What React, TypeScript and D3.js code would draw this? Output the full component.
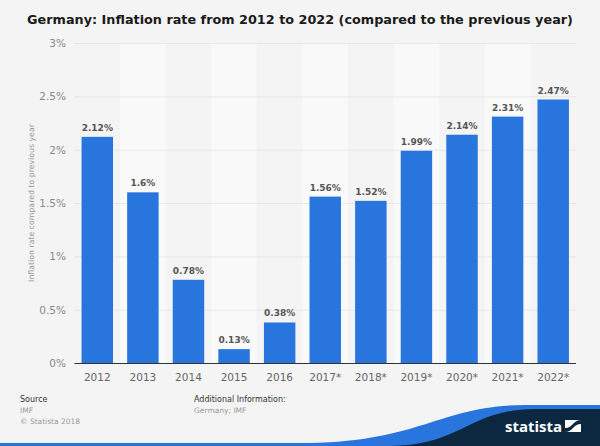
import React from "react";
import * as d3 from "d3";

const categories = ["2012", "2013", "2014", "2015", "2016", "2017*", "2018*", "2019*", "2020*", "2021*", "2022*"];
const values = [2.12, 1.6, 0.78, 0.13, 0.38, 1.56, 1.52, 1.99, 2.14, 2.31, 2.47];
const valueLabels = ["2.12%", "1.6%", "0.78%", "0.13%", "0.38%", "1.56%", "1.52%", "1.99%", "2.14%", "2.31%", "2.47%"];
const yTicks = [0, 0.5, 1, 1.5, 2, 2.5, 3];
const yTickLabels = ["0%", "0.5%", "1%", "1.5%", "2%", "2.5%", "3%"];

const W = 600;
const H = 446;
const FONT = "'DejaVu Sans', Verdana, sans-serif";

export default function App() {
  const x0 = 74.5, x1 = 576, yTop = 43, yBot = 363;
  const x = d3.scaleBand<string>().domain(categories).range([x0, x1]).paddingInner(0.31).paddingOuter(0.155);
  const y = d3.scaleLinear().domain([0, 3]).range([yBot, yTop]);
  const step = x.step();
  const bw = x.bandwidth();

  return (
    <svg width={W} height={H} style={{ position: "absolute", left: 0, top: 0, display: "block" }} fontFamily={FONT}>
      <rect x={0} y={0} width={W} height={H} fill="#f4f4f4" />
      {categories.map((c, i) =>
        i % 2 === 1 ? (
          <rect key={"bg" + c} x={x0 + i * step} y={yTop} width={step} height={yBot - yTop} fill="#f9f9f9" />
        ) : null
      )}
      <text x={300} y={24} textAnchor="middle" fontSize={12.8} fontWeight="bold" fill="#1a1a1a">
        Germany: Inflation rate from 2012 to 2022 (compared to the previous year)
      </text>
      {yTicks.map((t, i) => (
        <g key={"yt" + t}>
          {t > 0 && (
            <line x1={x0} x2={x1} y1={y(t) + 0.5} y2={y(t) + 0.5} stroke="#d8d8d8" strokeWidth={1} strokeDasharray="1,1" />
          )}
          <text x={66} y={y(t) + 4} textAnchor="end" fontSize={10.5} fill="#888">
            {yTickLabels[i]}
          </text>
        </g>
      ))}
      <text
        transform={`translate(34,${(yTop + yBot) / 2}) rotate(-90)`}
        textAnchor="middle"
        fontSize={7.8}
        fill="#999"
      >
        Inflation rate compared to previous year
      </text>
      {categories.map((c, i) => (
        <g key={"b" + c}>
          <rect x={x(c)!} y={y(values[i])} width={bw} height={yBot - y(values[i])} fill="#2876dd" />
          <text x={x(c)! + bw / 2} y={y(values[i]) - 6} textAnchor="middle" fontSize={9} fontWeight="bold" fill="#555">
            {valueLabels[i]}
          </text>
          <text x={x(c)! + bw / 2} y={381} textAnchor="middle" fontSize={10.5} fill="#666">
            {c}
          </text>
        </g>
      ))}
      <line x1={x0} x2={x1} y1={yBot + 0.5} y2={yBot + 0.5} stroke="#333" strokeWidth={1} />
      <g>
        <text x={20} y={402} fill="#333" fontSize={8}>Source</text>
        <text x={20} y={413} fill="#999" fontSize={7.5}>IMF</text>
        <text x={20} y={424} fill="#999" fontSize={7.5}>© Statista 2018</text>
        <text x={194} y={402} fill="#333" fontSize={8}>Additional Information:</text>
        <text x={194} y={413} fill="#999" fontSize={7.5}>Germany; IMF</text>
      </g>
      <path d="M0,443 L300,443 C420,443 440,405 525,405 L600,405 L600,446 L0,446 Z" fill="#2876dd" />
      <path d="M390,446 C460,446 470,409 535,409 L600,409 L600,446 Z" fill="#0c2840" />
      <text x={505} y={432} fontSize={15} fontWeight="bold" fill="#ffffff" fontFamily="'Open Sans', 'DejaVu Sans', sans-serif">
        statista
      </text>
      <g transform="translate(565,420)">
        <rect x={0} y={0} width={16} height={12} fill="#ffffff" />
        <path d="M0,12 L0,8 C4,8 6,6 9,3 C11,1 13,0 16,0 L16,4 C12,4 10,6 8,8 C6,10 4,12 0,12 Z" fill="#0c2840" />
      </g>
    </svg>
  );
}
